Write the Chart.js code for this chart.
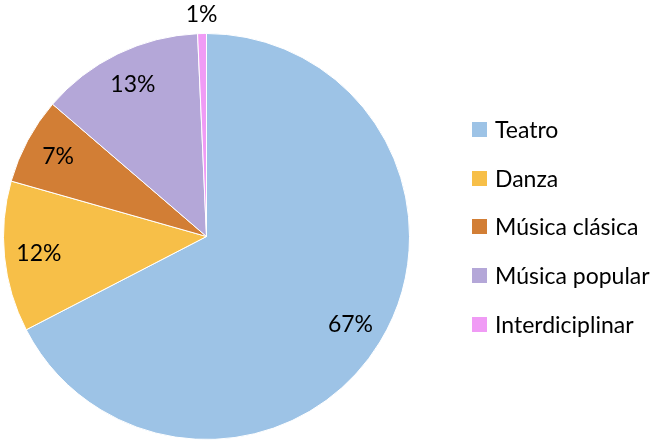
<!DOCTYPE html>
<html>
<head>
<meta charset="utf-8">
<script src="https://cdn.jsdelivr.net/npm/chart.js@4.4.1/dist/chart.umd.min.js"></script>
<style>
  html, body { margin: 0; padding: 0; background: #fff; }
  #wrap { position: relative; width: 660px; height: 440px; overflow: hidden; }
  #c { position: absolute; left: 0; top: 0; }
  #legend { position: absolute; left: 472px; top: 114px; font-family: Lato, "Liberation Sans", sans-serif; font-size: 23px; line-height: 31px; color: #000; }
  .item { height: 48.7px; display: flex; align-items: flex-start; white-space: nowrap; }
  .box { width: 15px; height: 15px; margin-top: 8px; margin-right: 8px; flex: none; }
</style>
</head>
<body>
<div id="wrap">
  <canvas id="c" width="660" height="440"></canvas>
  <div id="legend"></div>
</div>
<script>
const categories = ["Teatro", "Danza", "Música clásica", "Música popular", "Interdiciplinar"];
const values = [67.4, 12.0, 6.9, 13.0, 0.7];
const colors = ["#9DC3E6", "#F7BF48", "#D27E35", "#B4A7D8", "#F09BF5"];

const total = values.reduce((a, b) => a + b, 0);
const pctLabels = values.map(v => Math.round(v / total * 100) + "%");

const labelPlugin = {
  id: "sliceLabels",
  afterDatasetsDraw(chart) {
    const ctx = chart.ctx;
    const meta = chart.getDatasetMeta(0);
    ctx.save();
    ctx.font = "23px Lato, 'Liberation Sans', sans-serif";
    ctx.fillStyle = "#000";
    ctx.textAlign = "center";
    ctx.textBaseline = "middle";
    meta.data.forEach((arc, i) => {
      const mid = (arc.startAngle + arc.endAngle) / 2;
      const frac = values[i] / total;
      const dist = frac < 0.03 ? arc.outerRadius + 19 : arc.outerRadius * 0.83;
      const x = arc.x + Math.cos(mid) * dist;
      const y = arc.y + Math.sin(mid) * dist;
      ctx.fillText(pctLabels[i], x, y);
    });
    ctx.restore();
  }
};

new Chart(document.getElementById("c"), {
  type: "pie",
  data: {
    labels: categories,
    datasets: [{
      data: values,
      backgroundColor: colors,
      borderColor: "#ffffff",
      borderWidth: 1
    }]
  },
  options: {
    responsive: false,
    animation: false,
    layout: { padding: { left: 3, top: 33, right: 250, bottom: 0 } },
    plugins: {
      legend: { display: false },
      tooltip: { enabled: false }
    }
  },
  plugins: [labelPlugin]
});

const lg = document.getElementById("legend");
categories.forEach((name, i) => {
  const it = document.createElement("div");
  it.className = "item";
  const b = document.createElement("span");
  b.className = "box";
  b.style.background = colors[i];
  const t = document.createElement("span");
  t.textContent = name;
  it.appendChild(b);
  it.appendChild(t);
  lg.appendChild(it);
});
</script>
</body>
</html>
